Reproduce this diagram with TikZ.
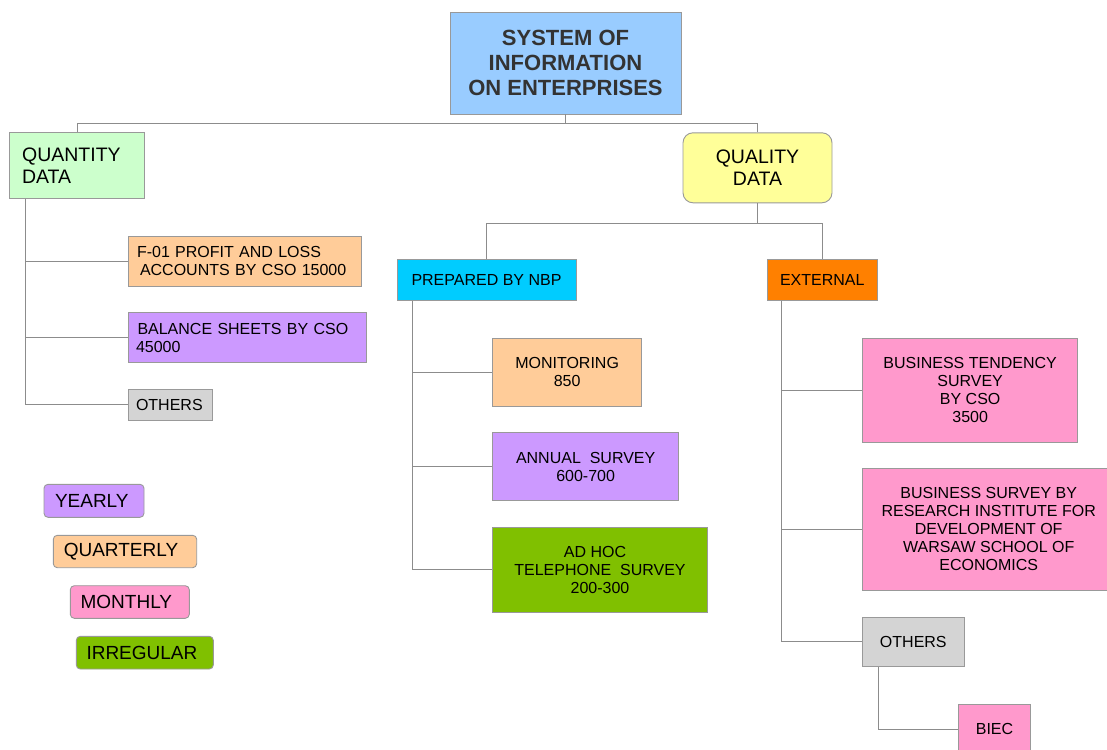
\documentclass[tikz,border=0pt]{standalone}
\usepackage{fontspec}
\setmainfont{Liberation Sans}
\definecolor{linegray}{HTML}{8C8C8C}
\definecolor{bordergray}{HTML}{999999}
\definecolor{titleblue}{HTML}{99CCFF}
\definecolor{qgreen}{HTML}{CCFFCC}
\definecolor{qyellow}{HTML}{FFFF99}
\definecolor{peach}{HTML}{FFCC99}
\definecolor{lilac}{HTML}{CC99FF}
\definecolor{lgray}{HTML}{D4D4D4}
\definecolor{cyanbox}{HTML}{00CCFF}
\definecolor{orangebox}{HTML}{FF8000}
\definecolor{pinkbox}{HTML}{FF99CC}
\definecolor{greenbox}{HTML}{80C000}
\definecolor{titletext}{HTML}{333333}
\tikzset{
  box/.style={draw=bordergray, line width=0.9pt, inner sep=0pt, align=center,
    font=\fontsize{16}{18}\selectfont},
  lbox/.style={box, align=left},
  legend/.style={draw=bordergray, line width=0.9pt, rounded corners=4pt, inner sep=0pt,
    align=left, font=\fontsize{19}{22}\selectfont},
  conn/.style={draw=linegray, line width=0.9pt},
  sz/.style 2 args={minimum width=#1pt, minimum height=#2pt}
}
\begin{document}
\begin{tikzpicture}[x=1pt,y=-1pt]
\clip (0,0) rectangle (1107,749);
\fill[white] (0,0) rectangle (1107,749);

% top level
\node[box, fill=titleblue, sz={231}{102}, text=titletext,
  font=\fontsize{22}{25}\selectfont\bfseries] (title) at (565.5,63)
  {SYSTEM OF\\INFORMATION\\ON ENTERPRISES};

\node[lbox, fill=qgreen, text width=110pt, inner xsep=12.4pt, minimum height=66pt,
  font=\fontsize{19.5}{22}\selectfont] (quan) at (77.1,165.7) {QUANTITY\\DATA};
\node[box, fill=qyellow, sz={149}{70}, rounded corners=10pt,
  font=\fontsize{19.5}{22}\selectfont] (qual) at (757.5,167.8) {QUALITY\\DATA};

% quantity children
\node[lbox, fill=peach, text width=215.4pt, inner xsep=9pt, minimum height=49.3pt] (f01) at (244.7,261.3)
  {F-01 PROFIT AND LOSS\\\hspace*{3pt}ACCOUNTS BY CSO 15000};
\node[lbox, fill=lilac, text width=222.4pt, inner xsep=8pt, minimum height=49.6pt] (bal) at (247.2,337.5)
  {\hspace*{1.5pt}BALANCE SHEETS BY CSO\\45000};
\node[lbox, fill=lgray, text width=68pt, inner xsep=8pt, minimum height=31.7pt] (oth1) at (170,404.8) {OTHERS};

% quality children
\node[box, fill=cyanbox, sz={179}{41}] (prep) at (486.5,279.8) {PREPARED BY NBP};
\node[box, fill=orangebox, sz={110.5}{41}] (ext) at (822.25,279.8) {EXTERNAL};

\node[box, fill=peach, sz={148.8}{67.7}] (mon) at (567.1,372.2) {MONITORING\\850};
\node[box, fill=lilac, sz={185.9}{67.6}] (ann) at (585.65,466.5) {ANNUAL\ \ SURVEY\\600-700};
\node[box, fill=greenbox, sz={214.6}{85.7}] (adhoc) at (600,569.85)
  {AD HOC\hspace*{10pt}\\TELEPHONE\ \ SURVEY\\200-300};

\node[box, fill=pinkbox, sz={215.1}{103.7}] (bts) at (970.15,390.15)
  {BUSINESS TENDENCY\\SURVEY\\BY CSO\\3500};
\node[box, fill=pinkbox, sz={252.2}{121.3}] (bs) at (988.7,529.35)
  {BUSINESS SURVEY BY\\RESEARCH INSTITUTE FOR\\DEVELOPMENT OF\\WARSAW SCHOOL OF\\ECONOMICS};
\node[box, fill=lgray, sz={101.4}{49.7}] (oth2) at (913.3,641.85) {OTHERS};
\node[box, fill=pinkbox, sz={71.8}{49.2}] (biec) at (994.5,729.3) {BIEC};

% legend
\node[legend, fill=lilac, text width=78pt, inner xsep=11pt, minimum height=33pt] (yearly) at (94,500.8) {YEARLY};
\node[legend, fill=peach, text width=122.4pt, inner xsep=10.5pt, minimum height=32.4pt] (quarterly) at (125,551.5) {QUARTERLY};
\node[legend, fill=pinkbox, text width=98.4pt, inner xsep=10.3pt, minimum height=32.6pt] (monthly) at (129.8,602) {MONTHLY};
\node[legend, fill=greenbox, text width=116.6pt, inner xsep=10.2pt, minimum height=32.7pt] (irregular) at (144.8,652.65) {IRREGULAR};

% connectors
\coordinate (j1) at (565.5,123.3);
\draw[conn] (title.south) -- (j1);
\draw[conn] (j1) -| (quan.north);
\draw[conn] (j1) -| (qual.north);

\coordinate (j2) at (757.5,223);
\draw[conn] (qual.south) -- (j2);
\draw[conn] (j2) -| (prep.north);
\draw[conn] (j2) -| (ext.north);

\coordinate (qa) at ([xshift=16pt]quan.south west);
\draw[conn] (qa) |- (f01.west);
\draw[conn] (qa) |- (bal.west);
\draw[conn] (qa) |- (oth1.west);

\coordinate (pa) at ([xshift=16pt]prep.south west);
\draw[conn] (pa) |- (mon.west);
\draw[conn] (pa) |- (ann.west);
\draw[conn] (pa) |- (adhoc.west);

\coordinate (ea) at ([xshift=15pt]ext.south west);
\draw[conn] (ea) |- (bts.west);
\draw[conn] (ea) |- (bs.west);
\draw[conn] (ea) |- (oth2.west);

\coordinate (oa) at ([xshift=15.8pt]oth2.south west);
\draw[conn] (oa) |- (biec.west);
\end{tikzpicture}
\end{document}
